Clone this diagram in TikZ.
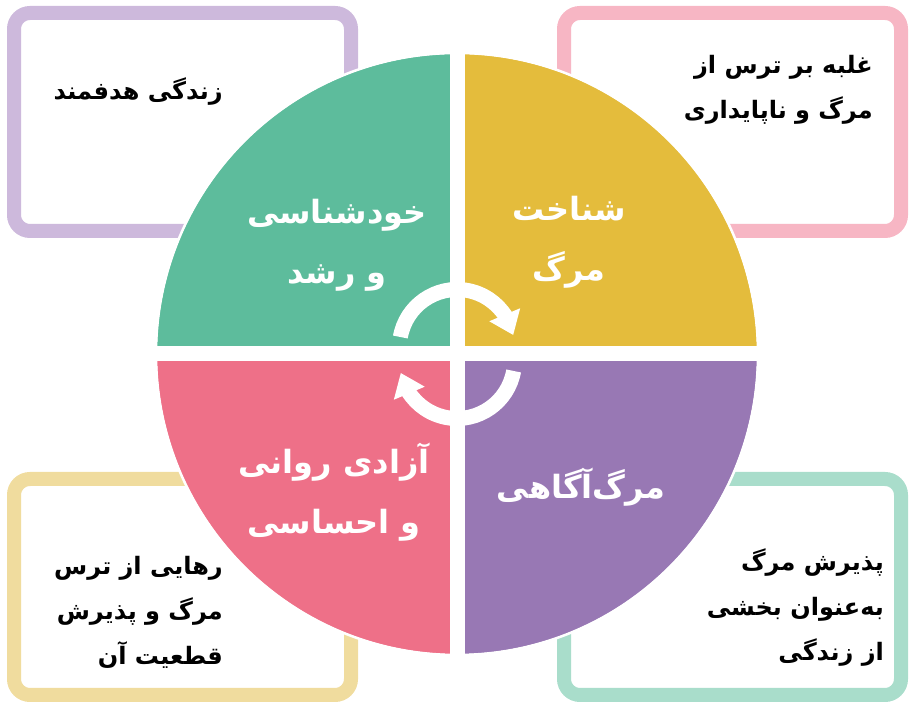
\documentclass[tikz,border=0pt]{standalone}
\usepackage{fontspec}
\usepackage{tikz}
\usetikzlibrary{arrows.meta,bending}
\TeXXeTstate=1
\newfontfamily\farsi[Script=Arabic]{DejaVu Sans}
\definecolor{qGreen}{HTML}{5DBC9C}
\definecolor{qYellow}{HTML}{E4BC3C}
\definecolor{qPurple}{HTML}{9878B4}
\definecolor{qPink}{HTML}{EE7088}
\definecolor{fPurple}{HTML}{CDB9DC}
\definecolor{fPink}{HTML}{F7B6C4}
\definecolor{fYellow}{HTML}{F0DC9E}
\definecolor{fMint}{HTML}{A9DDCB}
\tikzstyle{frame}=[line width=14pt,rounded corners=16pt,fill=white]
\tikzstyle{boxtext}=[inner sep=0pt,anchor=east,align=right,text=black,font=\farsi\bfseries\fontsize{24}{45}\selectfont]
\tikzstyle{quadtext}=[inner sep=0pt,align=center,text=white,font=\farsi\bfseries\fontsize{32}{60}\selectfont]
\tikzstyle{cyclearrow}=[draw=white,line width=15pt,-{Triangle[width=32pt,length=22pt,flex]}]

\begin{document}
\begin{tikzpicture}[x=1pt,y=1pt]
    \useasboundingbox (0,0) rectangle (914,706);
    % First we draw the four frames
    \foreach \sw/\ne/\col in {{(14,475)/(351,693)/fPurple}, {(564,475)/(901,693)/fPink}, {(14,11)/(351,227)/fYellow}, {(564,11)/(901,227)/fMint}}
        \draw[frame,draw=\col] \sw rectangle \ne;

    % The circle in four parts
    \coordinate (c) at (457,352);
    \foreach \from/\to/\col in {0/90/qYellow, 90/180/qGreen, 180/270/qPink, 270/360/qPurple}
        \fill[\col] (c) -- ++(\from:300) arc[start angle=\from,end angle=\to,radius=300] -- cycle;
    \draw[white,line width=2.5pt] (c) circle[radius=301];
    \coordinate (ctop) at (457,654);
    \coordinate (cbot) at (457,50);
    \coordinate (cleft) at (155,352);
    \coordinate (cright) at (759,352);
    \draw[white,line width=15pt] (ctop) -- (cbot);
    \draw[white,line width=15pt] (cleft) -- (cright);

    % Cycle arrows
    \coordinate (arcTop) at (457,359);
    \coordinate (arcBot) at (457,345);
    \draw[cyclearrow] (arcTop) ++(170:57.5) arc[start angle=170,end angle=12,radius=57.5];
    \draw[cyclearrow] (arcBot) ++(-10:57.5) arc[start angle=-10,end angle=-168,radius=57.5];

    % Labels of the quadrants
    \node[quadtext] (self) at (337,461) {\beginR خودشناسی\endR\\\beginR و رشد\endR};
    \node[quadtext] (know) at (569,464) {\beginR شناخت\endR\\\beginR مرگ\endR};
    \node[quadtext] (aware) at (581,219) {\beginR مرگ‌آگاهی\endR};
    \node[quadtext] (free) at (334,214) {\beginR آزادی روانی\endR\\\beginR و احساسی\endR};

    % Texts in the frames
    \node[boxtext] (goal) at (223,614) {\beginR زندگی هدفمند\endR};
    \node[boxtext] (fear) at (873,616) {\beginR غلبه بر ترس از\endR\\\beginR مرگ و ناپایداری\endR};
    \node[boxtext] (relief) at (223,94) {\beginR رهایی از ترس\endR\\\beginR مرگ و پذیرش\endR\\\beginR قطعیت آن\endR};
    \node[boxtext] (accept) at (884,98) {\beginR پذیرش مرگ\endR\\\beginR به‌عنوان بخشی\endR\\\beginR از زندگی\endR};
\end{tikzpicture}
\end{document}
